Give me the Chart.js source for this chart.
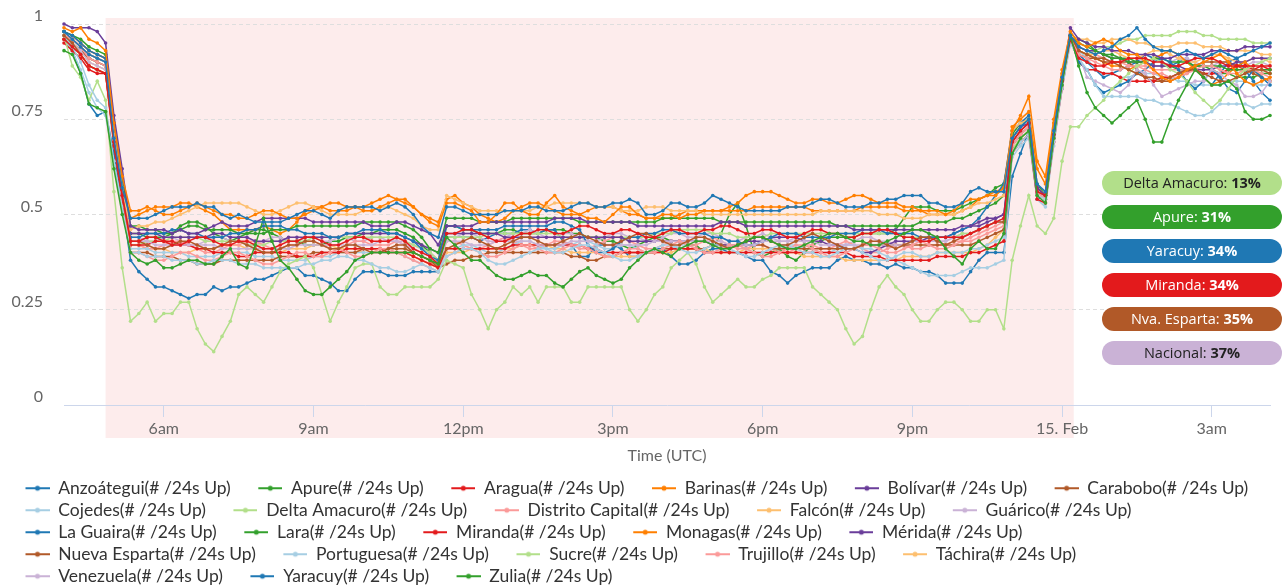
<!DOCTYPE html>
<html>
<head>
<meta charset="utf-8">
<title>Estados - disponibilidad</title>
<script src="https://cdn.jsdelivr.net/npm/chart.js@4.4.1/dist/chart.umd.min.js"></script>
<style>
  html, body { margin: 0; padding: 0; background: #fff; }
  #wrap { position: relative; width: 1283px; height: 588px; overflow: hidden; }
  .pill {
    position: absolute; left: 1102px; width: 180px; height: 24px;
    border-radius: 12px; font: 14.5px 'Open Sans', sans-serif; line-height: 24px;
    text-align: center; color: #fff; white-space: nowrap;
  }
  .pill b { font-weight: 700; }
</style>
</head>
<body>
<div id="wrap">
  <canvas id="chart" width="1283" height="588"></canvas>
</div>
<script>
// time axis: minutes since 14 Feb 00:00 UTC, one sample every 10 minutes
const startMinute = 240;
const stepMinutes = 10;

const xTickValues = [360, 540, 720, 900, 1080, 1260, 1440, 1620];
const xTickLabels = ['6am', '9am', '12pm', '3pm', '6pm', '9pm', '15. Feb', '3am'];
const yTickValues = [0, 0.25, 0.5, 0.75, 1];

// shaded period (minutes)
const bandRange = [290, 1454];

// side labels
const pillNames = ['Delta Amacuro', 'Apure', 'Yaracuy', 'Miranda', 'Nva. Esparta', 'Nacional'];
const pillValues = ['13%', '31%', '34%', '34%', '35%', '37%'];

// series, in percent
const anzoategui = [
  98,96,94,92,91,90,70,57,
  49,49,49,50,51, 52,52,52,53,52, 52,50,49,50,49, 48,48,48,48,49, 50,51,51,50,49, 51,52,52,52,52, 51,52,53,52,50, 47,45,
  44,
  52,52,51,50,50, 50,50,51,51,51, 52,52,51,51,51, 52,53,53,52,52, 53,53,54,53,50, 50,51,53,53,52, 52,53,55,54,53,
  52,51,51,51,51, 51,52,52,52,53, 54,54,53,52,52, 52,53,53,54,54, 55,55,55,53,53, 52,52,53,56,57, 56,56,
  56,
  70,73,75,58,56,72,86,97,
  94,93,92,93,94,96,97,99,96,94,93,93,92,93,92,91,92,93,92,91,92,93,94,95
];
const apure = [
  93,92,87,79,78,77,62,50,
  40,38,37,38,36, 36,37,38,38,37, 37,39,41,37,36, 42,49,43,38,36, 33,30,29,29,31, 33,35,38,39,40, 40,40,40,40,40, 39,38,
  37,
  44,42,40, 38,38,36,34,33,33, 34,35,34,34,32,31, 33,35,36,34,33,32, 33,36,38,40,41,40, 39,41,42,43,43,42,41,41,
  42,43,44,44,43,42,41,41,42,43, 44,45,45,44,43,43,42,42,43,44, 45,46,46,45, 44,41,39,37,41,43,41,41,
  45,
  66,70,72,55,53,70,84,97,
  89,82,78,76,74,76,78,80,75,69,69,75,80,84,88,86,84,84,85,83,77,75,75,76
];
const aragua = [
  96,94,92,89,88,87,69,55,
  43,43,44,44,43, 42,42,43,44,44, 43,42,42,43,43, 42,41,41,42,43, 43,44,44,43,42, 42,43,44,44,43, 43,43,44,43,41, 40,39,
  37,
  45,45,46,46,45, 44,43,43,44,45, 45,46,46,45,45, 46,47,47,46,45, 45,46,46,45,44, 44,45,46,46,45, 45,46,46,47,47,
  46,45,45,46,46, 45,44,44,45,46, 46,45,45,44,44, 45,45,46,46,45, 44,44,43,43,44, 44,44,44,45,46, 47,48,
  49,
  69,72,74,56,55,71,85,96,
  91,90,89,89,90,90,91,91,91,90,90,89,89,90,91,91,91,90,89,89,89,89,89,89
];
const barinas = [
  99,98,99,96,95,93,74,60,
  51,51,52,51,50, 50,51,52,53,52, 51,50,50,49,49, 50,51,51,50,49, 49,50,51,52,53, 53,52,52,51,51, 52,53,54,54,52, 50,48,
  47,
  53,53,52,51,48, 48,50,53,53,51, 50,50,53,55,52, 51,50,49,49,48, 50,52,52,50,49, 49,50,50,49,50, 50,51,51,51,52,
  53,55,56,56,56, 55,54,53,53,54, 54,53,53,54,55, 55,54,53,53,53, 52,52,51,51,51, 50,51,53,54,54, 55,55,
  57,
  72,76,81,64,60,75,88,98,
  95,94,95,96,95,93,92,92,90,88,86,85,86,88,89,90,91,92,90,87,85,84,85,86
];
const bolivar = [
  100,99,99,99,98,95,76,62,
  47,46,46,46,46, 45,46,45,45,46, 47,48,47,47,47, 48,49,49,49,49, 49,49,48,48,48, 48,48,48,48,47, 47,47,48,48,47, 46,45,
  42,
  47,47,47,47,48, 48,48,48,48,48, 48,48,48,49,49, 49,49,48,48,48, 48,48,48,47,47, 47,47,47,47,47, 47,47,47,48,48,
  48,47,47,47,47, 47,47,47,47,47, 47,47,47,47,46, 46,46,46,46,46, 46,46,46,46,46, 46,46,47,47,48, 49,49,
  50,
  70,73,74,57,55,71,85,99,
  96,95,94,94,93,93,93,92,92,92,91,91,92,92,92,92,93,93,93,93,94,94,94,94
];
const carabobo = [
  97,95,92,89,88,87,69,55,
  43,43,42,41,41, 42,43,43,42,41, 41,42,43,43,42, 41,40,40,41,42, 42,43,43,42,41, 41,42,42,41,40, 40,41,42,42,40, 39,38,
  37,
  41,42,43,44,43, 42,41,42,43,44, 44,43,42,42,43, 44,45,44,43,42, 42,43,44,45,45, 44,43,42,42,43, 44,44,43,42,41,
  42,43,44,44,43, 42,42,43,44,45, 44,43,42,41,41, 42,43,43,42,41, 42,43,44,44,43, 42,43,44,45,46, 47,48,
  48,
  69,72,74,57,55,71,85,97,
  93,92,91,90,90,89,88,87,86,86,85,86,87,88,88,87,86,85,85,86,87,88,88,87
];
const cojedes = [
  97,94,90,84,80,78,64,52,
  40,40,39,39,39, 38,38,38,37,37, 38,38,38,37,37, 37,36,36,36,36, 36,37,37,38,38, 39,39,38,38,37, 36,36,35,35,36, 37,36,
  35,
  39,40,41,41,40, 38,37,37,38,39, 40,41,41,40,40, 41,42,42,41,40, 39,38,38,39,40, 41,42,42,41,40, 40,41,42,42,41,
  40,39,39,40,41, 42,42,41,40,40, 39,39,40,41,41, 40,39,38,38,39, 40,40,39,39,40, 40,40,40,41,41, 42,43,
  44,
  66,69,71,55,54,69,83,95,
  91,88,84,81,81,81,81,81,80,80,79,79,78,77,76,76,77,79,79,79,79,78,79,79
];
const deltaAmacuro = [
  97,89,86,80,85,80,56,36,
  22,24,27,22,24, 24,27,27,20,16, 14,18,22,29,31, 29,27,31,35,37, 38,39,36,29,22, 27,31,36,37,37, 31,29,29,31,31, 31,31,
  33,
  38,37,36,29,25, 20,25,27,31,29, 31,27,31,31,31, 27,27,31,31,31, 31,31,25,22,25, 29,31,36,38,40, 37,31,27,29,31,
  33,31,31,33,34, 36,36,36,36,31, 29,27,25,20,16, 18,25,31,34,31, 29,25,22,22,25, 27,27,25,22,22, 25,25,
  20,
  38,47,55,47,45,49,64,73,
  73,76,78,80,83,85,87,89,90,91,90,88,87,85,82,80,78,80,83,86,88,89,90,91
];
const distritoCapital = [
  97,96,94,91,90,89,70,56,
  40,40,39,38,38, 39,40,40,39,38, 38,39,40,40,39, 38,37,37,38,39, 40,40,39,39,40, 41,40,39,39,40, 41,41,40,39,38, 37,36,
  35,
  39,40,41,41,40, 39,39,40,41,42, 42,41,40,40,41, 42,42,41,40,39, 39,40,41,41,40, 40,41,42,43,42, 41,40,40,41,42,
  42,41,40,39,39, 40,41,42,42,41, 40,39,39,40,41, 42,42,41,40,40, 41,42,43,42,41, 41,42,43,43,44, 45,46,
  47,
  68,71,73,56,54,70,84,96,
  92,91,90,89,88,88,89,89,88,87,87,86,86,87,88,89,89,88,87,87,88,88,87,86
];
const falcon = [
  97,96,94,92,91,90,71,57,
  46,47,47,48,48, 49,50,51,52,53, 53,53,53,53,52, 51,50,50,51,52, 53,53,52,51,50, 50,50,50,51,51, 52,52,51,50,49, 47,46,
  46,
  55,54,53,52,51, 51,51,51,51,51, 51,52,52,53,53, 53,53,53,52,52, 52,51,51,51,52, 52,52,51,51,51, 51,50,50,50,50,
  50,50,50,50,50, 50,50,50,50,50, 51,51,51,51,51, 51,51,50,50,50, 49,49,49,50,50, 50,50,51,52,53, 53,54,
  55,
  72,74,75,57,55,72,86,97,
  96,96,95,95,96,96,96,95,95,94,94,94,95,95,95,94,94,94,93,93,93,93,92,92
];
const guarico = [
  97,95,93,90,89,88,70,56,
  43,43,43,42,42, 42,42,42,42,42, 42,41,41,41,41, 41,41,41,41,41, 42,42,42,42,42, 42,42,42,42,42, 43,43,43,42,41, 40,39,
  37,
  43,43,43,42,42, 42,43,43,43,43, 43,42,42,42,42, 43,43,43,43,42, 42,42,42,42,42, 43,43,43,43,43, 43,43,43,43,42,
  42,42,42,43,43, 43,43,43,43,43, 42,42,42,42,42, 42,42,42,42,42, 42,43,43,43,43, 43,44,44,45,46, 47,48,
  48,
  68,71,73,56,54,70,84,96,
  92,86,85,84,83,82,84,88,87,84,81,82,83,84,85,85,88,87,85,84,81,81,82,85
];
const laGuaira = [
  98,97,95,93,92,91,72,58,
  44,44,45,45,45, 46,46,45,45,44, 44,44,45,45,46, 46,47,47,47,46, 46,45,45,45,44, 44,45,45,46,46, 46,45,45,44,43, 41,39,
  38,
  47,47,46,46,46, 46,46,47,47,47, 47,47,47,48,48, 47,46,42,40,40, 41,43,44,44,45, 45,46,46,45,45, 45,45,44,44,43,
  43,42,42,43,44, 45,45,45,44,44, 44,44,45,45,45, 46,46,46,45,45, 45,45,44,44,44, 44,45,46,47,49, 52,55,
  58,
  72,74,76,56,55,71,85,96,
  90,88,84,82,83,84,85,87,88,90,91,90,88,85,83,85,88,86,83,82,85,88,86,84
];
const lara = [
  98,97,96,94,93,92,74,60,
  47,47,46,46,45, 45,46,47,47,46, 46,46,46,45,45, 45,45,46,46,46, 47,47,47,47,47, 47,47,47,48,48, 48,48,48,47,46, 44,41,
  40,
  49,49,49,49,48, 48,48,48,49,49, 49,49,49,49,49, 49,48,48,48,48, 48,48,48,48,48, 48,49,49,49,49, 49,49,49,48,48,
  48,48,48,48,48, 48,48,48,48,48, 48,48,47,47,47, 47,47,47,47,47, 47,47,48,48,48, 48,49,49,50,51, 52,53,
  55,
  71,74,75,57,55,71,85,97,
  96,95,93,92,91,91,90,90,90,91,91,90,90,90,89,89,89,89,88,88,88,88,88,88
];
const miranda = [
  95,93,91,88,87,87,68,54,
  42,42,42,43,43, 43,42,42,41,41, 40,40,40,39,39, 40,40,40,40,40, 39,39,39,40,40, 40,41,41,41,41, 41,40,40,40,39, 38,37,
  36,
  41,41,41,41,41, 41,41,41,42,42, 42,42,42,42,42, 42,42,41,41,40, 40,40,40,40,40, 40,40,41,41,41, 41,40,40,40,40,
  40,40,40,40,40, 40,40,40,40,40, 40,40,40,40,39, 39,39,39,38,38, 38,38,38,38,39, 39,39,39,40,40, 41,42,
  43,
  66,69,71,54,53,69,83,96,
  90,88,88,87,87,86,85,85,85,85,86,86,87,88,88,87,87,87,88,89,89,88,89,88
];
const monagas = [
  98,97,95,93,92,91,72,58,
  49,50,51,52,52, 52,53,53,52,51, 50,48,46,46,46, 46,47,46,45,46, 48,51,52,52,51, 51,51,52,52,53, 54,55,54,53,52, 50,49,
  48,
  54,55,53,52,50, 49,48,49,51,52, 53,53,52,51,50, 50,50,51,52,52, 52,51,50,50,49, 49,49,49,50,51, 51,51,51,51,51,
  51,51,52,52,52, 52,52,52,52,51, 51,51,51,51,51, 52,52,52,52,52, 51,51,51,50,50, 50,50,51,52,54, 55,56,
  57,
  73,75,77,62,58,74,87,97,
  93,92,91,90,89,89,88,89,90,91,92,93,92,90,88,86,84,85,87,89,90,88,86,85
];
const merida = [
  97,96,94,92,91,90,71,57,
  45,45,45,45,44, 44,44,44,44,44, 45,45,44,44,44, 43,43,43,43,44, 44,44,44,44,44, 44,45,45,45,45, 45,45,45,44,43, 42,41,
  40,
  45,45,45,45,45, 45,45,44,44,44, 44,44,44,44,44, 44,44,44,44,44, 44,44,43,43,43, 43,43,43,43,43, 43,43,42,42,42,
  42,43,43,43,44, 44,44,44,43,43, 43,42,42,41,41, 40,40,41,42,43, 43,43,43,44,44, 44,45,46,47,47, 48,49,
  50,
  68,71,73,56,55,70,84,97,
  94,93,93,92,91,91,90,90,90,89,89,89,89,88,88,88,88,89,89,90,90,91,91,91
];
const nuevaEsparta = [
  96,95,93,91,90,89,70,56,
  40,40,40,39,39, 39,38,38,37,37, 37,38,38,38,38, 38,38,38,39,39, 39,39,40,40,40, 40,40,40,41,41, 41,41,41,41,40, 39,38,
  36,
  37,38,38,39,39, 40,40,40,40,40, 40,40,40,40,40, 39,39,38,38,39, 39,40,40,40,40, 40,41,41,41,41, 41,41,42,42,42,
  42,42,42,42,41, 41,41,41,41,41, 41,41,41,41,41, 42,42,42,42,42, 42,42,42,42,42, 42,42,42,42,43, 44,45,
  46,
  68,71,73,56,54,70,84,96,
  92,91,91,91,90,90,90,88,86,85,85,85,86,87,89,90,90,90,90,89,88,87,86,85
];
const portuguesa = [
  96,93,88,82,78,76,63,52,
  41,41,41,40,40, 40,40,39,39,39, 39,40,40,40,40, 39,39,39,38,38, 38,38,39,39,39, 40,40,40,40,40, 40,40,40,39,38, 37,36,
  35,
  41,41,42,42,41, 40,40,41,42,43, 43,42,41,41,42, 42,43,43,42,41, 41,42,42,41,40, 40,41,41,42,42, 41,40,40,41,42,
  42,41,40,40,41, 41,42,42,41,41, 40,40,41,42,42, 41,41,40,39,38, 37,36,35,34,34, 34,34,35,36,36, 36,37,
  38,
  65,68,70,54,52,68,83,95,
  93,91,88,87,87,86,86,87,87,87,86,86,85,85,84,84,84,84,85,85,85,84,84,84
];
const sucre = [
  96,94,92,89,88,87,69,55,
  42,42,43,43,43, 44,44,44,44,43, 43,43,43,43,42, 42,42,43,43,43, 43,43,44,44,44, 44,44,44,44,44, 44,44,44,43,42, 41,40,
  38,
  44,44,44,44,44, 45,45,45,45,45, 45,45,45,45,44, 44,44,44,44,44, 44,44,44,44,44, 45,45,45,46,46, 46,46,45,45,45,
  44,44,44,44,45, 45,45,45,45,45, 45,45,45,45,45, 45,45,45,45,45, 44,44,44,44,44, 44,44,45,45,46, 47,48,
  48,
  67,70,72,56,54,70,84,96,
  93,92,93,94,94,95,96,96,97,97,97,97,98,98,98,97,97,96,96,96,96,95,95,95
];
const trujillo = [
  98,97,95,93,92,91,72,58,
  42,42,41,41,42, 43,43,42,41,40, 40,41,42,42,43, 43,42,41,41,42, 42,43,43,42,41, 41,42,43,43,42, 42,42,43,42,40, 39,38,
  36,
  43,43,42,41,41, 42,43,44,43,42, 41,41,42,43,43, 42,41,41,42,43, 44,44,43,42,41, 41,42,43,43,42, 42,43,44,43,42,
  41,41,42,42,41, 40,40,41,42,42, 41,41,42,43,42, 41,40,40,41,42, 42,41,41,42,42, 42,43,43,44,45, 46,47,
  48,
  69,72,74,57,55,71,85,97,
  94,93,92,91,90,90,89,89,89,88,88,88,88,88,88,87,87,87,88,88,88,88,88,88
];
const tachira = [
  96,95,93,90,89,88,70,56,
  42,42,41,41,41, 40,40,40,41,41, 41,42,42,42,41, 41,40,40,40,41, 41,41,42,42,42, 41,41,41,40,40, 40,40,40,40,39, 38,37,
  36,
  40,40,40,41,41, 41,41,41,41,42, 42,42,42,41,41, 40,40,40,40,39, 39,39,39,39,40, 40,40,40,41,41, 41,41,40,40,40,
  40,41,41,41,41, 40,40,40,39,39, 39,39,39,38,38, 38,38,38,38,38, 39,39,39,39,40, 40,40,40,40,41, 42,44,
  46,
  67,70,72,55,54,70,84,96,
  93,92,92,93,93,92,91,91,92,93,93,92,91,90,90,91,92,92,91,90,90,91,91,90
];
const venezuela = [
  98,96,94,91,90,89,71,57,
  44,44,43,43,44, 44,43,42,42,43, 44,44,43,43,42, 42,43,44,44,43, 43,44,44,43,43, 44,44,43,43,44, 44,43,43,43,42, 41,40,
  38,
  44,44,45,45,44, 43,43,44,45,45, 46,45,44,44,45, 45,44,43,43,44, 45,45,44,44,43, 43,44,45,45,44, 44,45,45,44,43,
  43,44,44,45,44, 43,43,44,45,45, 44,43,42,42,43, 44,44,43,43,42, 42,43,44,44,43, 43,44,45,45,46, 47,48,
  49,
  69,72,74,57,55,71,85,97,
  93,92,91,91,90,90,91,91,90,89,89,90,91,91,90,89,89,90,90,89,89,90,90,89
];
const yaracuy = [
  97,93,87,79,76,77,66,53,
  38,35,33,31,31, 30,29,28,29,29, 31,30,31,31,32, 33,33,34,35,36, 36,34,34,33,32, 30,30,33,35,35, 35,34,34,34,35, 35,35,
  35,
  44,44,44,44,43,44,45,45,45,46,46,45,46,46,43,42,39,39,
  42,42,42,41,39,39,40,41,41,39,37,37,38,40,41,41,40,40,39,38,38,35,34,32,34,35,36,36,36,38,39,38,38,37,
  37,36,37,36,36,35,35,34,32,32,32,35,38,40,40,
  40,
  60,66,72,54,55,72,85,96,
  92,90,88,86,87,88,89,90,92,91,90,89,90,91,88,86,84,87,90,91,88,85,82,80
];
const zulia = [
  97,95,93,91,90,89,70,56,
  45,45,44,44,44, 45,47,48,48,47, 45,44,43,44,45, 46,46,45,44,43, 43,42,42,42,43, 43,44,44,45,45, 46,46,46,45,44, 42,40,
  38,
  47,47,46,46,45,45,45,46,46,45, 45,45,46,46,46,45,45,44,44,43, 43,42,41,42,43,44,44,43,43,42,
  42,40,41,45,50,53,47,40,39,40, 41,39,38,40,42,43,44,44,44,44, 45,45,45,45,46,49,52,52,52,51,
  51,51,52,53,54,55,57,
  58,
  70,73,75,58,55,72,85,97,
  95,94,93,92,92,91,91,90,90,89,89,89,88,88,89,89,88,87,87,86,86,86,87,87
];

const seriesNames = [
  'Anzoátegui', 'Apure', 'Aragua', 'Barinas', 'Bolívar', 'Carabobo',
  'Cojedes', 'Delta Amacuro', 'Distrito Capital', 'Falcón', 'Guárico',
  'La Guaira', 'Lara', 'Miranda', 'Monagas', 'Mérida',
  'Nueva Esparta', 'Portuguesa', 'Sucre', 'Trujillo', 'Táchira',
  'Venezuela', 'Yaracuy', 'Zulia'
];
const seriesValues = [
  anzoategui, apure, aragua, barinas, bolivar, carabobo,
  cojedes, deltaAmacuro, distritoCapital, falcon, guarico,
  laGuaira, lara, miranda, monagas, merida,
  nuevaEsparta, portuguesa, sucre, trujillo, tachira,
  venezuela, yaracuy, zulia
];

// colour cycle (paired palette)
const palette = ['#1f78b4', '#33a02c', '#e31a1c', '#ff7f00', '#6a3d9a', '#b15928',
                 '#a6cee3', '#b2df8a', '#fb9a99', '#fdbf6f', '#cab2d6'];
const pillColors = ['#b2df8a', '#33a02c', '#1f78b4', '#e31a1c', '#b15928', '#cab2d6'];
const pillText = ['#222', '#fff', '#fff', '#fff', '#fff', '#222'];

(function() {
  'use strict';

  const times = seriesValues[0].map((_, i) => startMinute + i * stepMinutes);

  seriesValues.forEach((arr, i) => {
    if (arr.length !== times.length) console.error(seriesNames[i] + ' has ' + arr.length + ' values');
  });

  // legend symbol: short line with a marker, drawn at the right of a wider box
  function legendIcon(color) {
    const c = document.createElement('canvas');
    c.width = 47;
    c.height = 10;
    const g = c.getContext('2d');
    g.strokeStyle = color;
    g.lineWidth = 2;
    g.beginPath();
    g.moveTo(23, 5);
    g.lineTo(47, 5);
    g.stroke();
    g.fillStyle = color;
    g.beginPath();
    g.arc(35, 5, 2.5, 0, Math.PI * 2);
    g.fill();
    return c;
  }

  const colors = seriesNames.map((_, i) => palette[i % palette.length]);
  const icons = colors.map(legendIcon);

  const datasets = seriesNames.map((name, i) => ({
    label: name + '(# /24s Up)',
    data: seriesValues[i].map((v, k) => ({ x: times[k], y: v / 100 })),
    borderColor: colors[i],
    backgroundColor: colors[i],
    borderWidth: 1.5,
    pointRadius: 1.8,
    pointBorderWidth: 0,
    pointHoverRadius: 3,
    tension: 0,
    fill: false,
    clip: false
  }));

  const bandPlugin = {
    id: 'shadedBand',
    beforeDraw: function(chart) {
      const { ctx, chartArea, scales } = chart;
      const x0 = scales.x.getPixelForValue(bandRange[0]);
      const x1 = scales.x.getPixelForValue(bandRange[1]);
      const top = scales.y.getPixelForValue(1) - 6;
      const bottom = chartArea.bottom + 33;
      ctx.save();
      ctx.fillStyle = '#fdecec';
      ctx.fillRect(x0, top, x1 - x0, bottom - top);
      ctx.restore();
    }
  };

  const labelFont = { family: 'Lato', size: 16 };

  new Chart(document.getElementById('chart'), {
    type: 'line',
    data: { datasets: datasets },
    plugins: [bandPlugin],
    options: {
      responsive: false,
      animation: false,
      layout: { padding: { top: 24, right: 13, bottom: -7, left: -2 } },
      plugins: {
        tooltip: { enabled: false },
        legend: {
          position: 'bottom',
          align: 'start',
          labels: {
            usePointStyle: true,
            pointStyleWidth: 47,
            padding: 4.5,
            color: '#333',
            font: { family: 'Lato', size: 17.5 },
            generateLabels: function(chart) {
              const items = Chart.defaults.plugins.legend.labels.generateLabels(chart);
              items.forEach((it, i) => { it.pointStyle = icons[i]; });
              return items;
            }
          }
        }
      },
      scales: {
        x: {
          type: 'linear',
          min: times[0],
          max: times[times.length - 1],
          afterBuildTicks: function(scale) {
            scale.ticks = xTickValues.map(v => ({ value: v }));
          },
          afterFit: function(scale) { scale.height = 70; },
          ticks: {
            autoSkip: false,
            maxRotation: 0,
            padding: 2,
            color: '#666',
            font: labelFont,
            callback: (v, i) => xTickLabels[i]
          },
          grid: { drawOnChartArea: false, color: '#ccd6eb', tickLength: 12 },
          border: { color: '#ccd6eb' },
          title: {
            display: true,
            text: 'Time (UTC)',
            color: '#666',
            font: labelFont,
            padding: { top: 0, bottom: 10 }
          }
        },
        y: {
          min: 0,
          max: 1,
          afterBuildTicks: function(scale) {
            scale.ticks = yTickValues.map(v => ({ value: v }));
          },
          afterFit: function(scale) {
            scale.width = 66;
            scale.paddingTop = 0;
            scale.paddingBottom = 0;
          },
          ticks: {
            padding: 21,
            labelOffset: -8,
            color: '#666',
            font: labelFont,
            callback: v => String(v)
          },
          grid: {
            drawTicks: false,
            color: ctx => (ctx.tick && ctx.tick.value === 0) ? 'rgba(0,0,0,0)' : '#dedede'
          },
          border: { display: false, dash: [4, 3] }
        }
      }
    }
  });

  // side labels
  const wrap = document.getElementById('wrap');
  pillNames.forEach((name, i) => {
    const d = document.createElement('div');
    d.className = 'pill';
    d.style.top = (171 + i * 34) + 'px';
    d.style.background = pillColors[i];
    d.style.color = pillText[i];
    d.appendChild(document.createTextNode(name + ': '));
    const b = document.createElement('b');
    b.textContent = pillValues[i];
    d.appendChild(b);
    wrap.appendChild(d);
  });
})();
</script>
</body>
</html>
